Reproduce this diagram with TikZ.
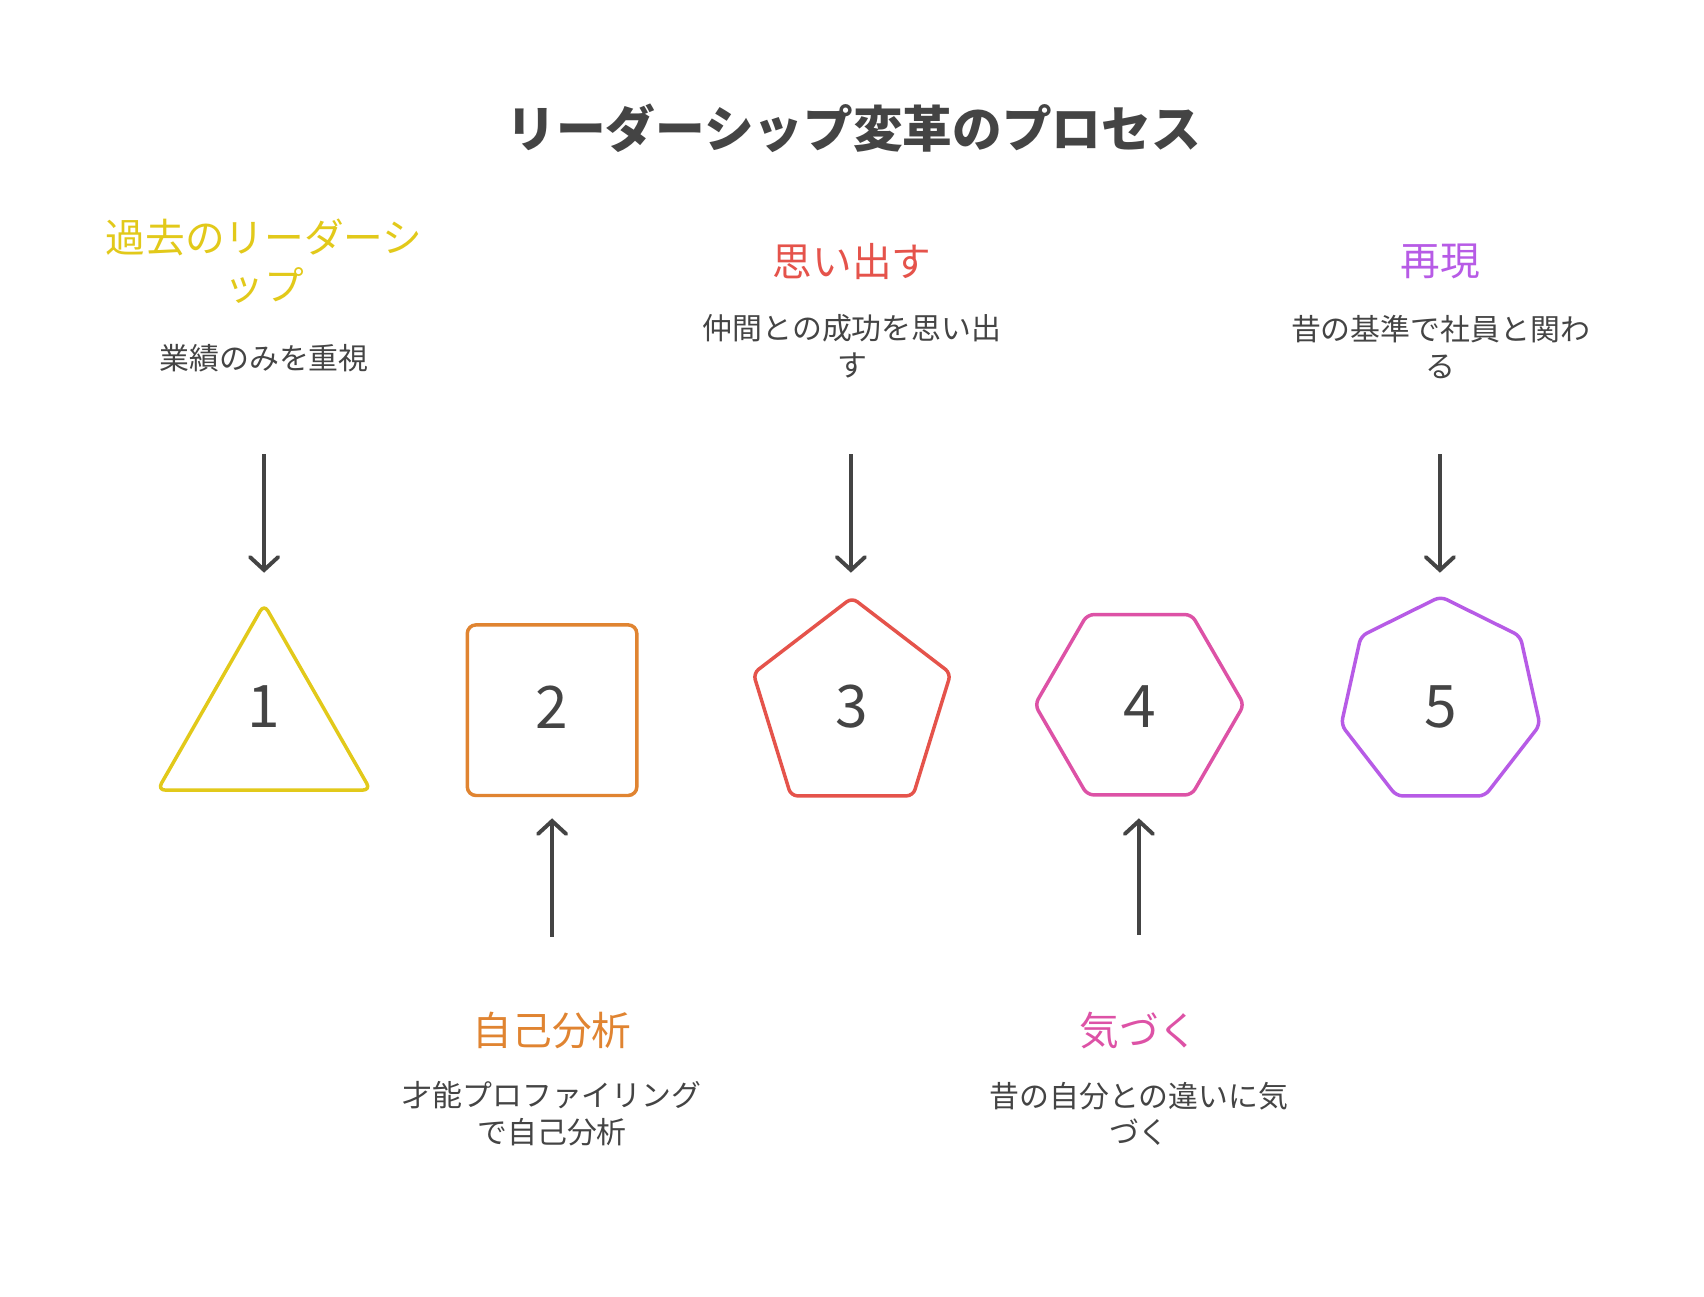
\documentclass[tikz,border=0pt]{standalone}
\usepackage{fontspec}
\setmainfont{Noto Sans CJK JP}
\usetikzlibrary{arrows.meta}
\definecolor{cyel}{HTML}{E2C91A}
\definecolor{cora}{HTML}{E08431}
\definecolor{cred}{HTML}{E5534B}
\definecolor{cpink}{HTML}{DD52A6}
\definecolor{cpur}{HTML}{B75BE6}
\definecolor{ctext}{HTML}{444444}
\tikzset{
  titletext/.style={font=\fontsize{45.7}{54}\selectfont\bfseries, text=ctext},
  headtext/.style={font=\fontsize{36.5}{44}\selectfont, align=center},
  desctext/.style={font=\fontsize{27.5}{34}\selectfont, text=ctext, align=center},
  numtext/.style={font=\fontsize{54}{60}\selectfont, text=ctext},
  shapeline/.style={line width=3.2pt, rounded corners=6pt, line join=round},
  conn/.style={draw=ctext, line width=3.6pt, -{Straight Barb[length=12pt,width=26pt,line width=3.6pt,line cap=round]}},
}
\begin{document}
\begin{tikzpicture}[x=1pt,y=-1pt]
\useasboundingbox (0,0) rectangle (1568,1192.6);
\fill[white] (0,0) rectangle (1568,1192.6);

\node[titletext] (title) at (785.5,118.5) {リーダーシップ変革のプロセス};

% shape centres
\coordinate (c1) at (243,652);
\coordinate (c2) at (508,653.5);
\coordinate (c3) at (784,650.8);
\coordinate (c4) at (1048.5,648.5);
\coordinate (c5) at (1325.6,645.5);

% shapes
\draw[shapeline, draw=cyel, rounded corners=7pt] (243,556) -- (341,727) -- (145,727) -- cycle;
\node[draw=cora, line width=3.2pt, rounded corners=8pt, minimum width=156pt, minimum height=157pt, inner sep=0pt] (s2) at (c2) {};
\draw[shapeline, draw=cred, shift={(c3)}] (-90:95.5 and 100.8)
   \foreach \k in {1,...,4} { -- ({-90+72*\k}:95.5 and 100.8) } -- cycle;
\draw[shapeline, draw=cpink, shift={(c4)}] (0:96.2 and 95.8)
   \foreach \k in {1,...,5} { -- ({60*\k}:96.2 and 95.8) } -- cycle;
\draw[shapeline, draw=cpur, shift={(c5)}] (-90:93.8 and 96.5)
   \foreach \k in {1,...,6} { -- ({-90+360/7*\k}:93.8 and 96.5) } -- cycle;

\node[numtext] (n1) at (243,650.5) {1};
\node[numtext] (n2) at (508,650.5) {2};
\node[numtext] (n3) at (784,650.5) {3};
\node[numtext] (n4) at (1048.5,650.5) {4};
\node[numtext] (n5) at (1325.5,650.5) {5};

% top labels
\node[headtext, text=cyel] (h1) at (243,240) {過去のリーダーシ\\ップ};
\node[desctext] (d1) at (243,330) {業績のみを重視};
\node[headtext, text=cred] (h3) at (784,241) {思い出す};
\node[desctext] (d3) at (784,319) {仲間との成功を思い出\\す};
\node[headtext, text=cpur] (h5) at (1325.5,241) {再現};
\node[desctext] (d5) at (1325.5,319) {昔の基準で社員と関わ\\る};

% bottom labels
\node[headtext, text=cora] (h2) at (508,948) {自己分析};
\node[desctext] (d2) at (508,1025) {才能プロファイリング\\で自己分析};
\node[headtext, text=cpink] (h4) at (1048,948) {気づく};
\node[desctext] (d4) at (1048,1025) {昔の自分との違いに気\\づく};

% arrows
\coordinate (a1s) at (243,418); \coordinate (a1e) at (243,527);
\coordinate (a3s) at (783,418); \coordinate (a3e) at (783,527);
\coordinate (a5s) at (1325,418); \coordinate (a5e) at (1325,527);
\coordinate (a2s) at (508,862); \coordinate (a2e) at (508,753);
\coordinate (a4s) at (1048,860); \coordinate (a4e) at (1048,753);
\draw[conn] (a1s) -- (a1e);
\draw[conn] (a3s) -- (a3e);
\draw[conn] (a5s) -- (a5e);
\draw[conn] (a2s) -- (a2e);
\draw[conn] (a4s) -- (a4e);
\end{tikzpicture}
\end{document}
